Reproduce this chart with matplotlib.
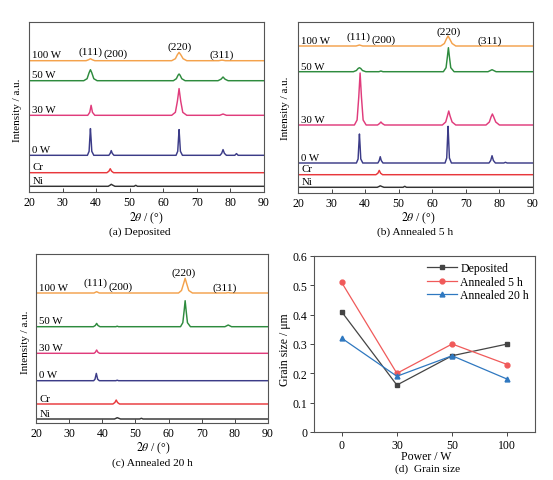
import matplotlib

matplotlib.use("Agg")
import matplotlib.pyplot as plt

plt.rcParams["font.family"] = ["Liberation Serif", "DejaVu Serif"]
plt.rcParams["mathtext.fontset"] = "stix"

W, H = 553, 481

# ---- XRD data: (2theta, intensity above trace baseline) -----------------
TRACE_NAMES = ["Ni", "Cr", "0 W", "30 W", "50 W", "100 W"]
TRACE_COLORS = ["#333333", "#e8383c", "#3c3c88", "#e03c7c", "#2e8b3e", "#f4a24c"]

# (a) Deposited
A_OFFSETS = [5.7, 19.3, 36.7, 76.7, 111.3, 131.3]
A_NI = [(20, 0), (43.6, 0), (44.2, 1.2), (44.5, 2), (44.9, 1.2), (45.6, 0),
        (51.3, 0), (51.8, 1), (52.3, 0), (90, 0)]
A_CR = [(20, 0), (43.2, 0), (43.8, 1.5), (44.2, 4), (44.6, 1.5), (45.2, 0), (90, 0)]
A_0W = [(20, 0), (37.4, 0), (37.9, 4), (38.1, 16), (38.3, 26.7), (38.5, 16), (38.7, 4),
        (39.3, 0), (43.8, 0), (44.2, 2), (44.5, 4.7), (44.8, 2), (45.3, 0),
        (63.8, 0), (64.3, 4), (64.5, 15), (64.7, 25.7), (64.9, 15), (65.1, 4), (65.7, 0),
        (76.9, 0), (77.4, 2), (77.8, 5.7), (78.2, 2), (78.8, 0),
        (81.3, 0), (81.8, 1.7), (82.3, 0), (90, 0)]
A_30W = [(20, 0), (37.5, 0), (38.1, 3), (38.5, 10), (38.9, 3), (39.6, 0),
         (62.5, 0), (63.6, 3), (64.2, 14), (64.7, 26.7), (65.2, 14), (65.8, 3), (67, 0),
         (76.8, 0), (77.8, 1.3), (78.8, 0), (90, 0)]
A_50W = [(20, 0), (36.3, 0), (37.3, 2), (37.9, 8), (38.3, 11), (38.7, 8), (39.3, 2),
         (40.3, 0), (63, 0), (63.9, 2), (64.4, 5.5), (64.7, 6.7), (65, 5.5), (65.5, 2),
         (66.5, 0), (76.3, 0), (77.2, 1.5), (77.8, 3.7), (78.4, 1.5), (79.3, 0), (90, 0)]
A_100W = [(20, 0), (37, 0), (37.8, 1), (38.3, 2), (38.8, 1), (39.6, 0),
          (62.5, 0), (63.6, 2), (64.2, 6), (64.7, 8.3), (65.2, 6), (65.9, 2), (67, 0),
          (76.5, 0), (77.5, 0.6), (78.5, 0), (90, 0)]

# (b) Annealed 5 h
B_OFFSETS = [5.7, 18.3, 30.0, 68.0, 121.3, 147.0]
B_NI = [(20, 0), (43.6, 0), (44.2, 0.9), (44.5, 1.5), (44.9, 0.9), (45.6, 0),
        (51.3, 0), (51.8, 1), (52.3, 0), (90, 0)]
B_CR = [(20, 0), (43.2, 0), (43.8, 1.5), (44.2, 4.3), (44.6, 1.5), (45.2, 0), (90, 0)]
B_0W = [(20, 0), (37.4, 0), (37.9, 4), (38.1, 17), (38.3, 29), (38.5, 17), (38.7, 4),
        (39.3, 0), (43.8, 0), (44.2, 2.5), (44.5, 6.3), (44.8, 2.5), (45.3, 0),
        (63.8, 0), (64.3, 5), (64.5, 21), (64.7, 36.7), (64.9, 21), (65.1, 5), (65.7, 0),
        (76.9, 0), (77.4, 2.5), (77.8, 7.3), (78.2, 2.5), (78.8, 0),
        (81.3, 0), (81.8, 0.7), (82.3, 0), (90, 0)]
B_30W = [(20, 0), (36.8, 0), (37.6, 5), (38.1, 28), (38.5, 52), (38.9, 28), (39.4, 5),
         (40.3, 0), (43.7, 0), (44.3, 1.5), (44.7, 3), (45.1, 1.5), (45.8, 0),
         (63, 0), (64, 3), (64.5, 9), (64.9, 14), (65.3, 9), (65.9, 3), (67, 0),
         (76, 0), (77, 3), (77.5, 8), (77.9, 11), (78.3, 8), (78.9, 3), (80, 0), (90, 0)]
B_50W = [(20, 0), (36.5, 0), (37.4, 1.2), (37.9, 3.2), (38.3, 4), (38.7, 3.2),
         (39.2, 1.2), (40.2, 0), (44.1, 0), (44.7, 0.7), (45.3, 0),
         (63.3, 0), (64.1, 4), (64.5, 15), (64.8, 24), (65.1, 15), (65.5, 4), (66.5, 0),
         (76.6, 0), (77.8, 2), (79, 0), (90, 0)]
B_100W = [(20, 0), (37.3, 0), (38.3, 1), (39.3, 0),
          (62.5, 0), (63.6, 2.5), (64.2, 7), (64.7, 10), (65.2, 7), (65.9, 2.5), (67, 0),
          (90, 0)]

# (c) Annealed 20 h
C_OFFSETS = [4.0, 19.0, 42.3, 69.7, 96.3, 130.0]
C_NI = [(20, 0), (43.7, 0), (44.2, 0.8), (44.5, 1.3), (44.9, 0.8), (45.5, 0),
        (51.3, 0), (51.8, 0.7), (52.3, 0), (90, 0)]
C_CR = [(20, 0), (43.2, 0), (43.8, 1.5), (44.2, 4), (44.6, 1.5), (45.2, 0), (90, 0)]
C_0W = [(20, 0), (37.4, 0), (37.8, 1.5), (38.2, 7.3), (38.6, 1.5), (39.1, 0),
        (44.1, 0), (44.5, 0.5), (44.9, 0), (90, 0)]
C_30W = [(20, 0), (37.5, 0), (37.9, 1), (38.3, 3.3), (38.7, 1), (39.2, 0), (90, 0)]
C_50W = [(20, 0), (37.3, 0), (37.9, 1.2), (38.3, 3.3), (38.7, 1.2), (39.3, 0),
         (44.1, 0), (44.5, 0.5), (44.9, 0),
         (63.6, 0), (64.3, 4), (64.7, 16), (65, 26), (65.3, 16), (65.7, 4), (66.6, 0),
         (77, 0), (78, 1.7), (79, 0), (90, 0)]
C_100W = [(20, 0), (37.5, 0), (38.3, 1.3), (39.1, 0),
          (63, 0), (63.9, 2.5), (64.5, 9), (65, 14.7), (65.5, 9), (66.1, 2.5), (67.2, 0),
          (77.3, 0), (78, 0.4), (78.7, 0), (90, 0)]

PEAK_LABELS = ["(111)", "(200)", "(220)", "(311)"]
A_LABEL_POS = [(38.2, 141), (45.8, 139), (65.0, 146.3), (77.4, 138)]
B_LABEL_POS = [(37.9, 157.3), (45.6, 154), (64.9, 162.3), (77.1, 153.3)]
C_LABEL_POS = [(37.9, 140.7), (45.6, 137.3), (64.6, 151.3), (77.0, 136.3)]

# ---- Grain size data ------------------------------------------------------
POWERS = ["0", "30", "50", "100"]
GS_DEPOSITED = [0.41, 0.16, 0.26, 0.30]
GS_ANNEALED_5H = [0.51, 0.20, 0.30, 0.23]
GS_ANNEALED_20H = [0.32, 0.19, 0.26, 0.18]


def px_rect(left, top, right, bottom):
    return [left / W, 1 - bottom / H, (right - left) / W, (bottom - top) / H]


def fig_text(fig, x, y, s, **kw):
    fig.text(x / W, 1 - y / H, s, ha="center", va="center", **kw)


def draw_xrd(ax, traces, offsets, label_pos, ymax):
    for name, color, pts, off in zip(TRACE_NAMES, TRACE_COLORS, traces, offsets):
        xs = [p[0] for p in pts]
        ys = [p[1] + off for p in pts]
        ax.plot(xs, ys, color=color, lw=1.05)
        ax.text(21, off + 1.2, name, fontsize=7.8, ha="left", va="bottom")
    for lab, (x, y) in zip(PEAK_LABELS, label_pos):
        ax.text(x, y, lab, fontsize=8.2, ha="center", va="center")
    ax.set_xlim(20, 90)
    ax.set_ylim(0, ymax)
    ax.set_yticks([])
    ax.set_xticks(range(20, 91, 10))
    ax.tick_params(axis="x", direction="in", length=3, labelsize=8.5, pad=3,
                   width=0.7, color="#444444")
    for sp in ax.spines.values():
        sp.set_linewidth(0.8)
        sp.set_color("#555555")


fig = plt.figure(figsize=(W / 100, H / 100), dpi=100)

ax_a = fig.add_axes(px_rect(29, 23, 264, 193))
draw_xrd(ax_a, [A_NI, A_CR, A_0W, A_30W, A_50W, A_100W], A_OFFSETS, A_LABEL_POS, 170)
ax_b = fig.add_axes(px_rect(298, 23, 533, 194))
draw_xrd(ax_b, [B_NI, B_CR, B_0W, B_30W, B_50W, B_100W], B_OFFSETS, B_LABEL_POS, 171)
ax_c = fig.add_axes(px_rect(36, 255, 268, 424))
draw_xrd(ax_c, [C_NI, C_CR, C_0W, C_30W, C_50W, C_100W], C_OFFSETS, C_LABEL_POS, 169)

xlabel = r"$2\theta$ / (°)"
fig_text(fig, 146.5, 218, xlabel, fontsize=8.5)
fig_text(fig, 418, 218, xlabel, fontsize=8.5)
fig_text(fig, 153, 448, xlabel, fontsize=8.5)
fig_text(fig, 18, 110, "Intensity / a.u.", fontsize=8, rotation=90)
fig_text(fig, 286, 108, "Intensity / a.u.", fontsize=8, rotation=90)
fig_text(fig, 25, 342, "Intensity / a.u.", fontsize=8, rotation=90)
fig_text(fig, 140, 232, "(a) Deposited", fontsize=8.2)
fig_text(fig, 415, 232, "(b) Annealed 5 h", fontsize=8.2)
fig_text(fig, 152, 463, "(c) Annealed 20 h", fontsize=8.2)

# (d) grain size
ax_d = fig.add_axes(px_rect(314, 257, 535, 433))
xpos = range(len(POWERS))
ax_d.plot(xpos, GS_DEPOSITED, color="#444444", marker="s", ms=3.5, lw=0.9,
          label="Deposited")
ax_d.plot(xpos, GS_ANNEALED_5H, color="#f05a5a", marker="o", ms=3.5, lw=0.9,
          label="Annealed 5 h")
ax_d.plot(xpos, GS_ANNEALED_20H, color="#2f78c0", marker="^", ms=3.5, lw=0.9,
          label="Annealed 20 h")
ax_d.set_xlim(-0.5, 3.5)
ax_d.set_ylim(0, 0.6)
ax_d.set_xticks(list(xpos))
ax_d.set_xticklabels(POWERS)
ax_d.set_yticks([0, 0.1, 0.2, 0.3, 0.4, 0.5, 0.6])
ax_d.set_yticklabels(["0", "0.1", "0.2", "0.3", "0.4", "0.5", "0.6"])
ax_d.tick_params(direction="out", length=3, labelsize=8.5, width=0.7, pad=2,
                 color="#444444")
for sp in ax_d.spines.values():
    sp.set_linewidth(0.8)
    sp.set_color("#555555")
ax_d.legend(loc="upper right", frameon=False, fontsize=8.5, handlelength=2.5,
            handletextpad=0.3, labelspacing=0.15, borderaxespad=0.1)
fig_text(fig, 426, 457, "Power / W", fontsize=8.5)
fig_text(fig, 285, 350, "Grain size / μm", fontsize=8.5, rotation=90)
fig_text(fig, 428, 469, "(d)  Grain size", fontsize=8.2)

fig.savefig("out.png", dpi=100)
